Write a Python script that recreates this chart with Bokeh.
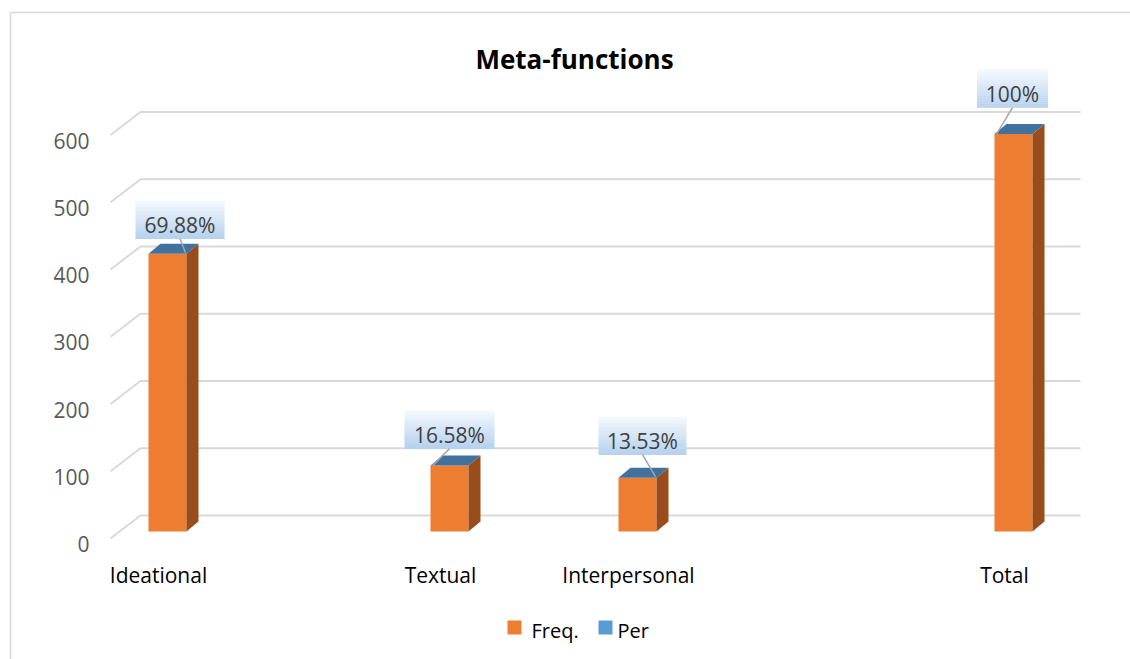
from bokeh.plotting import figure
from bokeh.models import Range1d
from bokeh.core.properties import value
from bokeh.embed import file_html
from bokeh.resources import INLINE

# ---------------- data ----------------
categories = ["Ideational", "Textual", "Interpersonal", "Total"]
freq = [413, 98, 80, 591]
per = [69.88, 16.58, 13.53, 100]
per_labels = ["69.88%", "16.58%", "13.53%", "100%"]
y_ticks = [0, 100, 200, 300, 400, 500, 600]
title_text = "Meta-functions"
series_names = ["Freq.", "Per"]

# ---------------- layout ----------------
slots = [0, 3, 5, 9]            # category slot positions (empty slots between)
W, H = 1130, 659
SX, X0 = 94.0, 167.0            # px per slot, px of slot 0
SY, Y0 = 0.6725, 531.0          # px per unit, px (from top) of value 0
FONT = value("Open Sans")


def dx(px):
    return px / SX


def dy(px):
    return px / SY


def sx(px):
    return (px - X0) / SX


def sy(py):
    return (Y0 - py) / SY


p = figure(width=W, height=H, x_range=Range1d(sx(0), sx(W)), y_range=Range1d(sy(H), sy(0)),
           output_backend="svg", toolbar_location=None, min_border=0,
           x_axis_type=None, y_axis_type=None)
p.grid.visible = False
p.outline_line_color = None
p.background_fill_color = "white"
p.border_fill_color = "white"

# chart border
p.line([sx(10), sx(10)], [sy(H + 5), sy(12)], line_color="#D9D9D9", line_width=1.5)
p.line([sx(10), sx(W + 5)], [sy(12), sy(12)], line_color="#D9D9D9", line_width=1.5)

# 3D gridlines (front-left diagonal + back wall)
g_xs, g_ys = [], []
for t in y_ticks:
    g_xs.append([sx(110), sx(140), sx(1080)])
    g_ys.append([t - dy(7), t + dy(16), t + dy(16)])
p.multi_line(g_xs, g_ys, line_color="#D9D9D9", line_width=2)

# y tick labels
p.text(x=[sx(89)] * len(y_ticks), y=[t - dy(12.5) for t in y_ticks],
       text=[str(t) for t in y_ticks], text_align="right", text_baseline="middle",
       text_font=FONT, text_font_size="21px", text_color="#595959")

# 3D bars
hw = dx(19)
ddx, ddy = dx(12), dy(10)
left = [s - hw for s in slots]
right = [s + hw for s in slots]
p.quad(left=left, right=right, bottom=0, top=freq, fill_color="#ED7D31", line_color=None)
p.patches([[r, r + ddx, r + ddx, r] for r in right],
          [[0, ddy, v + ddy, v] for v in freq],
          fill_color="#9A4D1C", line_color=None)
p.patches([[l, r, r + ddx, l + ddx] for l, r in zip(left, right)],
          [[v, v, v + ddy, v + ddy] for v in freq],
          fill_color="#41719C", line_color=None)

# category labels
p.text(x=[s - dx(9) for s in slots], y=[-dy(43)] * len(slots), text=categories,
       text_align="center", text_baseline="middle", text_font=FONT,
       text_font_size="21px", text_color="#000000")

# data labels (Per) with gradient boxes and leader lines
box_off = [(12.5, 34), (0, 36), (5, 42), (-1, 45.5)]
box_w = [89, 90, 88, 71]
box_h = 38
leader_end = ["right", "left", "right", "left"]
top_c = (0xF3, 0xF8, 0xFD)
bot_c = (0xB6, 0xD2, 0xEE)
N = 19
for i in range(len(categories)):
    cx = slots[i] + dx(box_off[i][0])
    cy = freq[i] + dy(box_off[i][1])
    half_w = dx(box_w[i] / 2)
    top_y = cy + dy(box_h / 2)
    lefts, rights, tops, bottoms, cols = [], [], [], [], []
    for k in range(N):
        f = k / (N - 1)
        c = tuple(int(round(a + (b - a) * f)) for a, b in zip(top_c, bot_c))
        lefts.append(cx - half_w)
        rights.append(cx + half_w)
        tops.append(top_y - dy(box_h * k / N))
        bottoms.append(top_y - dy(box_h * (k + 1) / N) - dy(0.3))
        cols.append("#%02X%02X%02X" % c)
    p.quad(left=lefts, right=rights, top=tops, bottom=bottoms, fill_color=cols, line_color=None)
    if leader_end[i] == "right":
        ex, ey = right[i] - dx(1), freq[i] + dy(1)
    else:
        ex, ey = left[i] + dx(2), freq[i]
    p.line([cx, ex], [cy - dy(box_h / 2), ey], line_color="#A6A6A6", line_width=1.5)
    p.text(x=[cx], y=[cy - dy(5)], text=[per_labels[i]], text_align="center",
           text_baseline="middle", text_font=FONT, text_font_size="21px", text_color="#404040")

# title
p.text(x=[sx(574)], y=[sy(58)], text=[title_text], text_align="center", text_baseline="middle",
       text_font=FONT, text_font_size="26px", text_font_style="bold", text_color="#000000")

# legend
p.rect(x=[sx(514), sx(605)], y=[sy(627), sy(627)], width=14, height=14,
       width_units="screen", height_units="screen",
       fill_color=["#ED7D31", "#5B9BD5"], line_color=None)
p.text(x=[sx(531), sx(617)], y=[sy(630), sy(630)], text=series_names,
       text_align="left", text_baseline="middle", text_font=FONT,
       text_font_size="20px", text_color="#000000")

open("out.html", "w").write(file_html(p, INLINE))
